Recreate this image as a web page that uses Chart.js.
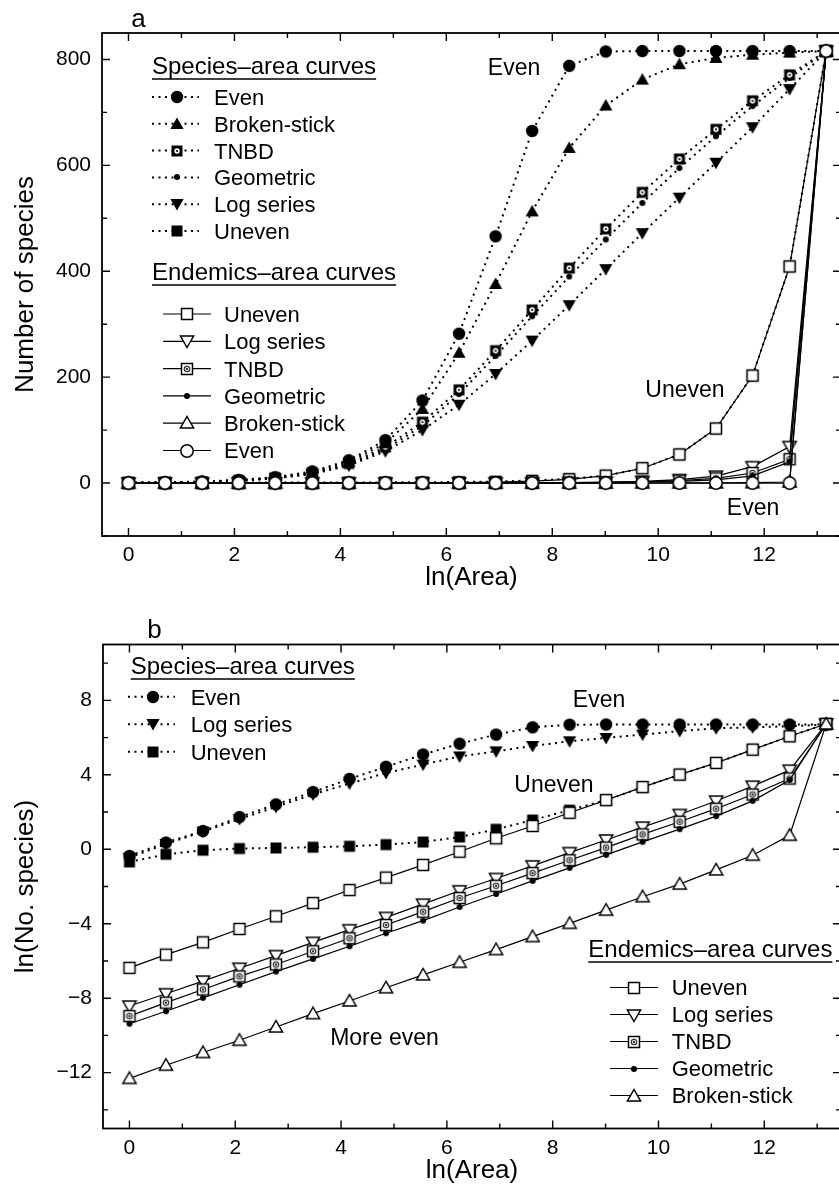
<!DOCTYPE html>
<html lang="en">
<head>
<meta charset="UTF-8">
<title>Species–area and endemics–area curves</title>
<script src="https://cdn.jsdelivr.net/npm/chart.js"></script>
<style>
  html, body { margin: 0; padding: 0; background: #fff; overflow: hidden; }
  .panel { position: absolute; left: 0; }
  #panelA { top: 0; }
  #panelB { top: 593px; }
</style>
</head>
<body>
<canvas id="panelA" class="panel" width="849" height="593"></canvas>
<canvas id="panelB" class="panel" width="849" height="593"></canvas>
<script>
const FONT = '"Liberation Sans", Arial, Helvetica, sans-serif';
Chart.defaults.font.family = FONT;
Chart.defaults.color = '#000';

// ln(Area) of the nested samples (each one doubles the area)
const lnArea = [0, 0.69, 1.39, 2.08, 2.77, 3.47, 4.16, 4.85, 5.55, 6.24, 6.93, 7.62, 8.32, 9.01, 9.70, 10.40, 11.09, 11.78, 12.48, 13.17];

const xTicks = [0, 2, 4, 6, 8, 10, 12];
const xMinor = [1, 3, 5, 7, 9, 11, 13];
const yTicksA = [0, 200, 400, 600, 800];
const yMinorA = [-100, 100, 300, 500, 700];
const yTicksB = [-12, -8, -4, 0, 4, 8];
const yMinorB = [-14, -10, -6, -2, 2, 6, 10];

// panel a: number of species, species-area curves
const evenSA   = [1, 1, 3, 6, 11, 22, 43, 81, 156, 282, 466, 665, 788, 815, 816, 816, 816, 816, 816, 816];
const brokenSA = [1, 1, 3, 5, 10, 20, 40, 75, 140, 246, 376, 513, 633, 713, 762, 791, 803, 809, 813, 816];
const tnbdSA   = [0, 1, 2, 5, 10, 19, 37, 68, 115, 176, 250, 327, 406, 480, 549, 612, 668, 722, 771, 816];
const geomSA   = [0, 1, 2, 5, 9, 18, 35, 64, 108, 168, 240, 315, 390, 460, 529, 595, 655, 712, 765, 816];
const logSA    = [0, 1, 2, 4, 9, 17, 33, 60, 100, 148, 206, 269, 336, 404, 472, 539, 605, 672, 744, 816];
const unevenSA = [0.5, 0.8, 1, 1, 1.1, 1.1, 1.2, 1.3, 1.5, 1.9, 2.9, 4.8, 8, 14, 28, 54, 103, 203, 409, 816];

// panel a: endemics-area curves
const unevenEA = [0, 0, 0, 0, 0, 0, 0, 0, 0.4, 0.9, 1.7, 3.5, 7, 14, 28, 54, 103, 203, 409, 816];
const logEA    = [0, 0, 0, 0, 0, 0, 0, 0, 0.1, 0.1, 0.2, 0.4, 0.8, 1.6, 3.2, 6.5, 13, 31, 69, 816];
const tnbdEA   = [0, 0, 0, 0, 0, 0, 0, 0, 0, 0.1, 0.1, 0.3, 0.6, 1.1, 2.2, 4.4, 8.8, 19, 45, 816];
const geomEA   = [0, 0, 0, 0, 0, 0, 0, 0, 0, 0, 0.1, 0.2, 0.4, 0.8, 1.5, 3, 6, 13.5, 40, 816];
const brokenEA = [0, 0, 0, 0, 0, 0, 0, 0, 0, 0, 0, 0, 0, 0, 0.1, 0.2, 0.3, 0.7, 2, 816];
const evenEA   = [0, 0, 0, 0, 0, 0, 0, 0, 0, 0, 0, 0, 0, 0, 0, 0, 0, 0, 0, 816];

// panel b: ln(No. species), species-area curves
const evenSB   = [-0.36, 0.36, 0.98, 1.73, 2.41, 3.07, 3.78, 4.43, 5.09, 5.67, 6.16, 6.55, 6.69, 6.70, 6.70, 6.70, 6.70, 6.70, 6.70, 6.70];
const logSB    = [-0.45, 0.28, 0.95, 1.62, 2.28, 2.95, 3.53, 4.10, 4.55, 4.99, 5.26, 5.55, 5.80, 5.98, 6.16, 6.35, 6.50, 6.55, 6.61, 6.70];
const unevenSB = [-0.68, -0.27, -0.05, 0.04, 0.07, 0.11, 0.16, 0.25, 0.39, 0.66, 1.07, 1.57, 2.10, 2.64, 3.34, 4.01, 4.64, 5.35, 6.07, 6.73];

// panel b: endemics-area curves
const unevenEB = [-6.37, -5.66, -5.00, -4.28, -3.60, -2.89, -2.19, -1.52, -0.84, -0.13, 0.59, 1.25, 1.96, 2.64, 3.34, 4.01, 4.64, 5.35, 6.07, 6.73];
const logEB    = [-8.42, -7.76, -7.08, -6.39, -5.71, -5.00, -4.32, -3.66, -2.95, -2.23, -1.57, -0.89, -0.18, 0.50, 1.19, 1.87, 2.59, 3.39, 4.25, 6.73];
const tnbdEB   = [-8.96, -8.24, -7.53, -6.83, -6.19, -5.48, -4.78, -4.07, -3.35, -2.62, -1.96, -1.28, -0.59, 0.09, 0.80, 1.48, 2.18, 2.94, 3.80, 6.73];
const geomEB   = [-9.37, -8.70, -7.98, -7.28, -6.57, -5.89, -5.21, -4.51, -3.83, -3.10, -2.40, -1.70, -1.00, -0.30, 0.40, 1.08, 1.78, 2.60, 3.72, 6.73];
const brokenEB = [-12.31, -11.60, -10.92, -10.26, -9.55, -8.83, -8.15, -7.44, -6.75, -6.07, -5.39, -4.69, -3.98, -3.27, -2.55, -1.87, -1.11, -0.32, 0.75, 6.73];

// marker images used as point styles
function marker(kind) {
    const c = document.createElement('canvas');
    c.width = 18; c.height = 18;
    const g = c.getContext('2d');
    g.translate(9, 9);
    g.lineWidth = 1.5;
    g.strokeStyle = '#000';
    const open = kind.endsWith('Open');
    const shape = kind.replace('Open', '').replace('Filled', '');
    g.beginPath();
    if (shape === 'circle') g.arc(0, 0, 6.2, 0, Math.PI * 2);
    else if (shape === 'square' || shape === 'tnbd') g.rect(-5.5, -5.5, 11, 11);
    else if (shape === 'triUp') { g.moveTo(0, -6.5); g.lineTo(6.6, 5); g.lineTo(-6.6, 5); g.closePath(); }
    else if (shape === 'triDown') { g.moveTo(0, 6.5); g.lineTo(6.6, -5); g.lineTo(-6.6, -5); g.closePath(); }
    else if (shape === 'dot') g.arc(0, 0, 3, 0, Math.PI * 2);
    g.fillStyle = open ? '#fff' : '#000';
    g.fill();
    if (open) g.stroke();
    if (shape === 'tnbd') {
        g.beginPath();
        g.arc(0, 0, 2.7, 0, Math.PI * 2);
        if (open) { g.strokeStyle = '#333'; g.lineWidth = 1.2; g.stroke(); }
        else { g.fillStyle = '#fff'; g.fill(); }
        g.beginPath();
        g.arc(0, 0, 1.1, 0, Math.PI * 2);
        g.fillStyle = '#000';
        g.fill();
    }
    return c;
}

function series(label, ys, kind, dotted) {
    return {
        label: label,
        data: ys.map((y, i) => ({ x: lnArea[i], y: y })),
        showLine: true,
        borderColor: '#000',
        backgroundColor: '#000',
        borderWidth: dotted ? 2 : 1.2,
        borderDash: dotted ? [2, 4.5] : [],
        pointStyle: marker(kind),
        pointRadius: 6,
        pointHoverRadius: 6,
        tension: 0,
        fill: false
    };
}

// frame with inward ticks, legends and text labels
function decor(opt) {
    return {
        id: 'decor',
        afterDraw(chart) {
            const ctx = chart.ctx;
            const a = chart.chartArea;
            const sx = chart.scales.x, sy = chart.scales.y;
            ctx.save();
            ctx.strokeStyle = '#000';
            ctx.fillStyle = '#000';
            ctx.lineWidth = 1.8;
            ctx.strokeRect(a.left, a.top, a.right - a.left, a.bottom - a.top);
            ctx.lineWidth = 1.4;
            ctx.beginPath();
            const xt = (vals, len) => vals.forEach(v => {
                const p = sx.getPixelForValue(v);
                ctx.moveTo(p, a.bottom); ctx.lineTo(p, a.bottom - len);
                ctx.moveTo(p, a.top); ctx.lineTo(p, a.top + len);
            });
            const yt = (vals, len) => vals.forEach(v => {
                const p = sy.getPixelForValue(v);
                ctx.moveTo(a.left, p); ctx.lineTo(a.left + len, p);
                ctx.moveTo(a.right, p); ctx.lineTo(a.right - len, p);
            });
            xt(xTicks, 8); xt(xMinor, 5);
            yt(opt.yMajor, 8); yt(opt.yMinor, 5);
            ctx.stroke();

            opt.legends.forEach(lg => {
                ctx.font = '24px ' + FONT;
                ctx.textAlign = 'left';
                ctx.textBaseline = 'alphabetic';
                ctx.fillText(lg.title, lg.x, lg.titleY);
                const w = ctx.measureText(lg.title).width;
                ctx.lineWidth = 1.3;
                ctx.beginPath();
                ctx.moveTo(lg.x, lg.titleY + 5); ctx.lineTo(lg.x + w, lg.titleY + 5);
                ctx.stroke();
                ctx.font = '22px ' + FONT;
                lg.items.forEach((idx, i) => {
                    const ds = chart.data.datasets[idx];
                    const y = lg.y0 + i * lg.dy;
                    ctx.lineWidth = ds.borderWidth;
                    ctx.setLineDash(ds.borderDash);
                    ctx.beginPath();
                    ctx.moveTo(lg.lx0, y); ctx.lineTo(lg.lx1, y);
                    ctx.stroke();
                    ctx.setLineDash([]);
                    const m = ds.pointStyle;
                    ctx.drawImage(m, Math.round(lg.mx - m.width / 2), Math.round(y - m.height / 2));
                    ctx.fillText(ds.label, lg.tx, y + 7.9);
                });
            });

            ctx.textAlign = 'center';
            opt.notes.forEach(n => {
                ctx.font = n.size + 'px ' + FONT;
                ctx.fillText(n.text, n.x, n.y);
            });
            ctx.restore();
        }
    };
}

function buildChart(id, cfg) {
    return new Chart(document.getElementById(id), {
        type: 'scatter',
        data: { datasets: cfg.datasets },
        options: {
            responsive: false,
            animation: false,
            devicePixelRatio: 1,
            events: [],
            layout: { padding: cfg.padding },
            plugins: { legend: { display: false }, tooltip: { enabled: false } },
            scales: {
                x: {
                    type: 'linear', min: -0.5, max: 13.45,
                    grid: { display: false, drawTicks: false },
                    border: { display: false },
                    afterBuildTicks: s => { s.ticks = xTicks.map(v => ({ value: v })); },
                    afterFit: s => { s.height = cfg.xHeight; },
                    ticks: { font: { size: 21 }, padding: 7, maxRotation: 0, autoSkip: false },
                    title: { display: true, text: 'ln(Area)', font: { size: 26 }, padding: { top: cfg.xTitlePad, bottom: 0 } }
                },
                y: {
                    type: 'linear', min: cfg.yMin, max: cfg.yMax,
                    grid: { display: false, drawTicks: false },
                    border: { display: false },
                    afterBuildTicks: s => { s.ticks = cfg.yMajor.map(v => ({ value: v })); },
                    afterFit: s => { s.width = cfg.yWidth; },
                    ticks: {
                        font: { size: 21 }, padding: 11,
                        callback: v => (v < 0 ? '\u2212' + Math.abs(v) : String(v))
                    },
                    title: { display: true, text: cfg.yTitle, font: { size: 26 }, padding: { top: 10, bottom: 0 } }
                }
            }
        },
        plugins: [decor(cfg)]
    });
}

// panel a (endemics first so they are drawn on top)
const dsA = [
    series('Even', evenEA, 'circleOpen', false),
    series('Broken-stick', brokenEA, 'triUpOpen', false),
    series('Geometric', geomEA, 'dot', false),
    series('TNBD', tnbdEA, 'tnbdOpen', false),
    series('Log series', logEA, 'triDownOpen', false),
    series('Uneven', unevenEA, 'squareOpen', false),
    series('Even', evenSA, 'circleFilled', true),
    series('Broken-stick', brokenSA, 'triUpFilled', true),
    series('TNBD', tnbdSA, 'tnbdFilled', true),
    series('Geometric', geomSA, 'dot', true),
    series('Log series', logSA, 'triDownFilled', true),
    series('Uneven', unevenSA, 'squareFilled', true)
];

buildChart('panelA', {
    datasets: dsA,
    padding: { top: 33, right: 4, left: 0, bottom: 0 },
    xHeight: 57, yWidth: 102, xTitlePad: 0,
    yMin: -100, yMax: 850, yMajor: yTicksA, yMinor: yMinorA,
    yTitle: 'Number of species',
    legends: [
        { title: 'Species\u2013area curves', x: 152, titleY: 74, y0: 97, dy: 26.8, lx0: 152, lx1: 199, mx: 176.5, tx: 214, items: [6, 7, 8, 9, 10, 11] },
        { title: 'Endemics\u2013area curves', x: 152, titleY: 280, y0: 314, dy: 27.3, lx0: 163, lx1: 211, mx: 187, tx: 224, items: [5, 4, 3, 2, 1, 0] }
    ],
    notes: [
        { text: 'a', x: 138.5, y: 26.5, size: 26 },
        { text: 'Even', x: 514, y: 75, size: 23 },
        { text: 'Uneven', x: 685, y: 396.5, size: 23 },
        { text: 'Even', x: 753, y: 515, size: 23 }
    ]
});

// panel b
const dsB = [
    series('Broken-stick', brokenEB, 'triUpOpen', false),
    series('Geometric', geomEB, 'dot', false),
    series('TNBD', tnbdEB, 'tnbdOpen', false),
    series('Log series', logEB, 'triDownOpen', false),
    series('Uneven', unevenEB, 'squareOpen', false),
    series('Even', evenSB, 'circleFilled', true),
    series('Log series', logSB, 'triDownFilled', true),
    series('Uneven', unevenSB, 'squareFilled', true)
];

buildChart('panelB', {
    datasets: dsB,
    padding: { top: 51.5, right: 3, left: 0, bottom: 0 },
    xHeight: 57.5, yWidth: 103, xTitlePad: 5,
    yMin: -15, yMax: 11, yMajor: yTicksB, yMinor: yMinorB,
    yTitle: 'ln(No. species)',
    legends: [
        { title: 'Species\u2013area curves', x: 130.7, titleY: 81, y0: 103.7, dy: 27.5, lx0: 128, lx1: 175, mx: 152.7, tx: 190.7, items: [5, 6, 7] },
        { title: 'Endemics\u2013area curves', x: 588.3, titleY: 364, y0: 394.5, dy: 27, lx0: 610, lx1: 658, mx: 634, tx: 671.7, items: [4, 3, 2, 1, 0] }
    ],
    notes: [
        { text: 'b', x: 154.5, y: 45.3, size: 26 },
        { text: 'Even', x: 599, y: 114.3, size: 23 },
        { text: 'Uneven', x: 554, y: 198.7, size: 23 },
        { text: 'More even', x: 384.5, y: 452, size: 23 }
    ]
});
</script>
</body>
</html>
